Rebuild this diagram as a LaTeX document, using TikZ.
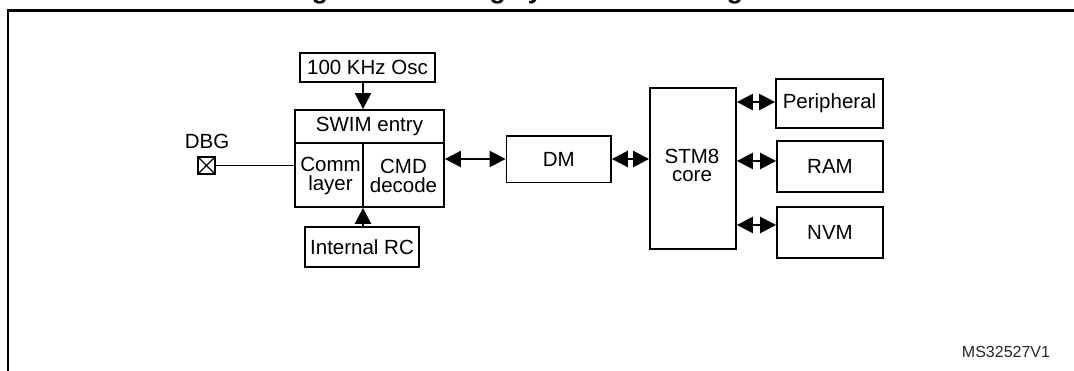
\documentclass[tikz,border=0pt]{standalone}
\usepackage{fontspec}
\setmainfont{Liberation Sans}
\usetikzlibrary{arrows.meta}
\begin{document}
\begin{tikzpicture}[x=1pt,y=-1pt,
  box/.style={draw, line width=1.8pt, inner sep=0pt, align=center,
    font=\fontsize{20.5}{18.5}\selectfont},
  txt/.style={inner sep=0pt, align=center, font=\fontsize{20.5}{18.5}\selectfont},
  tip/.tip={Triangle[length=16pt,width=16pt]},
  arr/.style={-tip, line width=2.5pt},
  darr/.style={tip-tip, line width=2.5pt},
  thin line/.style={line width=1.2pt}]
\useasboundingbox (0,0) rectangle (1074,371);
\clip (0,0) rectangle (1074,371);
% title (clipped) and frame
\node[anchor=base, inner sep=0pt, font=\fontsize{26.5}{30}\selectfont\bfseries] (title) at (540,-1) {Figure 10. Debug system block diagram};
\draw[line width=2.2pt] (8,380) -- (8,10.5) -- (1080,10.5);
% boxes
\node[box, minimum width=135pt, minimum height=29.5pt] (osc) at (367.5,67.5) {100 KHz Osc};
\node[box, minimum width=149pt, minimum height=97pt] (swim) at (369.5,158.5) {};
\node[box, minimum width=114pt, minimum height=40pt] (rc) at (362,247) {Internal RC};
\node[box, minimum width=104.5pt, minimum height=46.5pt] (dm) at (558.75,159.25) {DM};
\node[box, minimum width=86pt, minimum height=161pt] (stm) at (693,168.5) {};
\node[txt, font=\fontsize{20.5}{18}\selectfont] (stmtxt) at (692,165) {STM8\\core};
\node[box, minimum width=107pt, minimum height=49pt] (per) at (829.5,103.5) {Peripheral};
\node[box, minimum width=106pt, minimum height=51pt] (ram) at (830,166.5) {RAM};
\node[box, minimum width=106pt, minimum height=51pt] (nvm) at (830,232.5) {NVM};
% inside the SWIM box
\coordinate (cx) at (363,0);
\coordinate (div) at (0,143);
\draw[line width=1.8pt] (swim.west |- div) -- (swim.east |- div);
\draw[line width=1.8pt] (cx |- div) -- (cx |- swim.south);
\node[txt] (entry) at (369.5,126.5) {SWIM entry};
\node[txt] (comm) at (330.5,176) {Comm\\layer};
\node[txt] (cmd) at (403.5,176) {CMD\\decode};
% DBG pin
\node[txt] (dbglabel) at (207,141) {DBG};
\node[draw, thin line, minimum size=17pt, inner sep=0pt,
  path picture={\draw[thin line] (path picture bounding box.south west) -- (path picture bounding box.north east)
    (path picture bounding box.north west) -- (path picture bounding box.south east);}] (dbg) at (206.5,165.5) {};
\draw[thin line] (dbg.east) -- (dbg.east -| swim.west);
% connectors
\draw[arr] (osc.south -| cx) -- (swim.north -| cx);
\draw[arr] (rc.north -| cx) -- (swim.south -| cx);
\coordinate (ybus) at (0,159);
\draw[darr] (swim.east |- ybus) -- (dm.west |- ybus);
\draw[darr] (dm.east |- ybus) -- (stm.west |- ybus);
\draw[darr] (stm.east |- per.center) ++(0,-1.5) coordinate (pa) (pa) -- (pa -| per.west);
\draw[darr] (stm.east |- ram.center) ++(0,-5.5) coordinate (ra) (ra) -- (ra -| ram.west);
\draw[darr] (stm.east |- nvm.center) ++(0,-7.5) coordinate (na) (na) -- (na -| nvm.west);
% drawing id
\node[inner sep=0pt, font=\fontsize{16}{18}\selectfont, text=black!85] (msid) at (1006,352) {MS32527V1};
\end{tikzpicture}
\end{document}
